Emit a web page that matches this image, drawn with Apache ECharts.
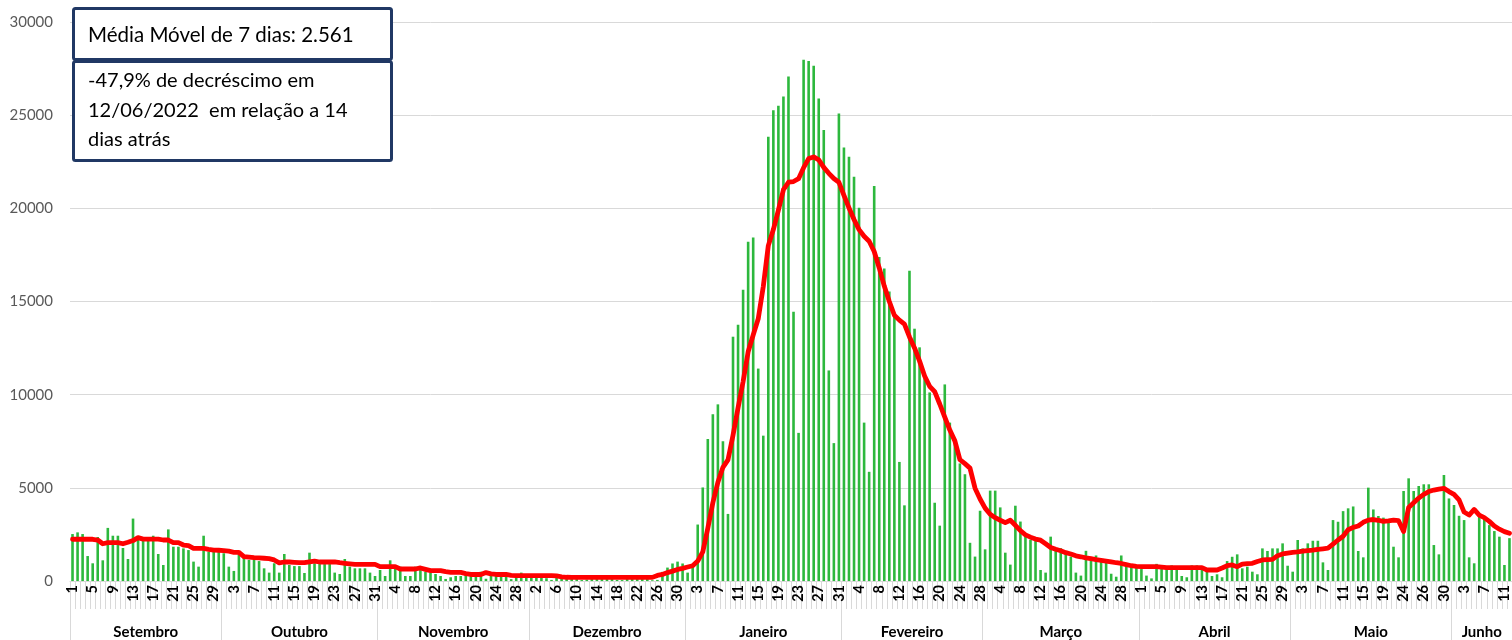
<!DOCTYPE html>
<html>
<head>
<meta charset="utf-8">
<script src="https://cdn.jsdelivr.net/npm/echarts@6/dist/echarts.min.js"></script>
<style>
html, body {margin: 0; padding: 0; background: #fff;}
#chart {width: 1512px; height: 640px;}
</style>
</head>
<body>
<div id="chart"></div>
<script>
// casos diários por mês (set/2021 a jun/2022)
var casosSet = [2520,2610,2520,1340,950,2360,1110,2850,2430,2430,1770,1180,3350,2380,2250,2250,2430,1450,860,2770,1840,1840,1750,1660,1040,770,2430,1575,1660,1575];
var casosOut = [1490,770,540,1590,1300,1130,1130,1070,680,450,950,450,1450,860,800,800,430,1520,950,910,910,910,450,375,1180,770,680,680,680,450,270];
var casosNov = [590,270,1110,770,770,270,270,770,590,500,450,375,270,110,200,270,270,450,380,250,500,120,420,300,350,300,100,250,450,200];
var casosDez = [300,250,280,150,60,300,250,200,180,220,50,80,250,200,230,200,150,60,50,200,240,220,180,150,40,60,490,720,940,1040,940];
var casosJan = [450,780,3030,5020,7620,8950,9480,7500,3600,13110,13750,15630,18200,18440,11400,7800,23840,25270,25500,26000,27070,14450,7950,27970,27910,27650,25890,24200,11300,7400,25090];
var casosFev = [23270,22770,21690,20030,8500,5860,21200,17390,16770,15530,14260,6390,4060,16650,13540,12540,11040,10120,4200,2970,10550,8500,7460,6310,5730,2050,1310,3770];
var casosMar = [1700,4850,4850,3950,1520,880,4040,3190,2480,2210,2210,590,450,2380,1760,1760,1520,1310,450,290,1620,1270,1370,1170,1170,390,230,1370,880,780,780];
var casosAbr = [640,290,140,920,750,770,840,770,270,200,840,840,770,550,270,360,200,1070,1300,1430,680,770,500,360,1750,1610,1750,1750,2020,820];
var casosMai = [500,2200,1750,2020,2160,2160,1000,590,3270,3180,3750,3900,4000,1610,1270,5010,3840,3490,3400,3310,1840,1270,4830,5510,4830,5100,5190,5190,1930,1430,5690,4430];
var casosJun = [4080,3500,3270,1270,950,3630,3450,3000,2680,2380,860,2300];

// média móvel de 7 dias
var mediaSet = [2240,2240,2240,2240,2240,2200,2000,2060,2060,2060,2000,2080,2170,2330,2250,2250,2250,2250,2200,2200,2060,2060,1930,1900,1750,1750,1750,1700,1660,1650];
var mediaOut = [1630,1600,1540,1540,1310,1280,1250,1240,1220,1200,1130,970,1020,1020,1000,985,985,1030,1070,1020,1020,1020,1020,980,950,920,895,895,895,895,895];
var mediaNov = [770,770,770,770,645,645,645,645,700,625,555,555,555,500,465,465,465,400,350,350,350,450,380,350,350,350,300,290,290,290];
var mediaDez = [290,290,290,290,290,270,220,200,195,195,195,195,195,195,195,195,195,195,195,195,195,195,195,195,195,300,350,450,530,620,680];
var mediaJan = [750,820,1070,1560,2830,4200,5300,6100,6500,7820,9300,10700,12300,13200,14070,15800,18000,18860,19900,21000,21400,21440,21590,22180,22670,22760,22600,22200,21880,21600,21400];
var mediaFev = [20700,20030,19400,18860,18500,18230,17680,16800,15830,15000,14260,14000,13780,13100,12510,11800,11000,10450,10160,9500,8790,8100,7520,6510,6300,6060,4980,4400];
var mediaMar = [3910,3580,3400,3260,3130,3260,2990,2700,2480,2350,2250,2190,2000,1800,1700,1620,1520,1450,1350,1300,1240,1200,1150,1110,1070,1030,980,940,880,820,780];
var mediaAbr = [770,770,770,770,740,715,715,715,715,715,715,715,715,590,590,590,700,820,860,770,910,930,950,1050,1130,1150,1160,1360,1450,1500];
var mediaMai = [1540,1560,1600,1630,1660,1700,1730,1760,1980,2200,2400,2750,2880,2950,3150,3270,3300,3260,3200,3230,3270,3240,2650,3950,4200,4450,4650,4800,4880,4930,4970,4800];
var mediaJun = [4650,4350,3700,3540,3840,3540,3400,3200,2950,2780,2650,2561];

// rótulos
var meses = ['Setembro', 'Outubro', 'Novembro', 'Dezembro', 'Janeiro', 'Fevereiro', 'Março', 'Abril', 'Maio', 'Junho'];
var diasMaio = [1,2,3,4,5,6,7,8,9,10,11,12,13,14,15,16,17,18,19,20,21,22,24,25,25,25,26,27,28,29,30,31];
var tamMeses = [30, 31, 30, 31, 31, 28, 31, 30, 32, 12];
var yTicks = [0, 5000, 10000, 15000, 20000, 25000, 30000];

var casos = [].concat(casosSet, casosOut, casosNov, casosDez, casosJan, casosFev, casosMar, casosAbr, casosMai, casosJun);
var media = [].concat(mediaSet, mediaOut, mediaNov, mediaDez, mediaJan, mediaFev, mediaMar, mediaAbr, mediaMai, mediaJun);

var dias = [];
var inicioMes = [0];
var meioMes = [];
for (var m = 0; m < meses.length; m++) {
    if (meses[m] === 'Maio') {
        dias = dias.concat(diasMaio);
    } else {
        for (var d = 1; d <= tamMeses[m]; d++) dias.push(d);
    }
    meioMes.push(inicioMes[m] + tamMeses[m] / 2);
    inicioMes.push(inicioMes[m] + tamMeses[m]);
}

var fonte = 'Lato, "Open Sans", sans-serif';
var myChart = echarts.init(document.getElementById('chart'), null, {renderer: 'canvas'});

var option = {
    backgroundColor: '#ffffff',
    animation: false,
    grid: {left: 70, right: -6, top: 22, bottom: 59, containLabel: false},
    xAxis: [
        {
            type: 'category',
            data: dias,
            boundaryGap: true,
            axisLine: {lineStyle: {color: '#d9d9d9', width: 1}},
            axisTick: {show: true, interval: 0, length: 28, lineStyle: {color: '#d9d9d9', width: 1}},
            axisLabel: {
                interval: 3, rotate: 90, margin: 4,
                color: '#000', fontWeight: 'bold', fontSize: 14.5, fontFamily: fonte
            },
            splitLine: {show: false}
        },
        {
            type: 'value',
            position: 'bottom',
            min: 0,
            max: inicioMes[inicioMes.length - 1],
            axisLine: {show: false},
            axisTick: {show: true, length: 59, customValues: inicioMes, lineStyle: {color: '#d9d9d9', width: 1}},
            axisLabel: {
                show: true, customValues: meioMes, margin: 44,
                color: '#000', fontWeight: 'bold', fontSize: 15, fontFamily: fonte,
                formatter: function (v) {
                    for (var i = 0; i < meioMes.length; i++) {
                        if (Math.abs(meioMes[i] - v) < 0.01) return meses[i];
                    }
                    return '';
                }
            },
            splitLine: {show: false}
        }
    ],
    yAxis: {
        type: 'value',
        min: yTicks[0],
        max: yTicks[yTicks.length - 1],
        interval: 5000,
        axisLine: {show: false},
        axisTick: {show: false},
        axisLabel: {
            color: '#595959', fontSize: 15, margin: 17, fontFamily: fonte,
            formatter: function (v) { return String(v); }
        },
        splitLine: {lineStyle: {color: '#d9d9d9', width: 1}}
    },
    series: [
        {
            name: 'Casos',
            type: 'bar',
            data: casos,
            barWidth: 2.6,
            itemStyle: {color: '#2db83d'}
        },
        {
            name: 'Média Móvel',
            type: 'line',
            data: media,
            showSymbol: false,
            smooth: false,
            lineStyle: {color: '#ff0000', width: 4.8, join: 'round', cap: 'round'},
            z: 5
        }
    ],
    graphic: [
        {
            type: 'rect',
            shape: {x: 73.5, y: 8.5, width: 318, height: 51, r: 2},
            style: {fill: '#fff', stroke: '#203864', lineWidth: 3},
            z: 10
        },
        {
            type: 'rect',
            shape: {x: 73.5, y: 61.5, width: 318, height: 99, r: 2},
            style: {fill: '#fff', stroke: '#203864', lineWidth: 3},
            z: 10
        },
        {
            type: 'text',
            x: 88, y: 35,
            style: {text: 'Média Móvel de 7 dias: 2.561', fill: '#000', font: '20.5px ' + fonte, verticalAlign: 'middle'},
            z: 11
        },
        {
            type: 'text',
            x: 88, y: 66,
            style: {
                text: '-47,9% de decréscimo em\n12/06/2022  em relação a 14\ndias atrás',
                fill: '#000', font: '20px ' + fonte, lineHeight: 29.5, verticalAlign: 'top'
            },
            z: 11
        }
    ]
};

myChart.setOption(option);
</script>
</body>
</html>
